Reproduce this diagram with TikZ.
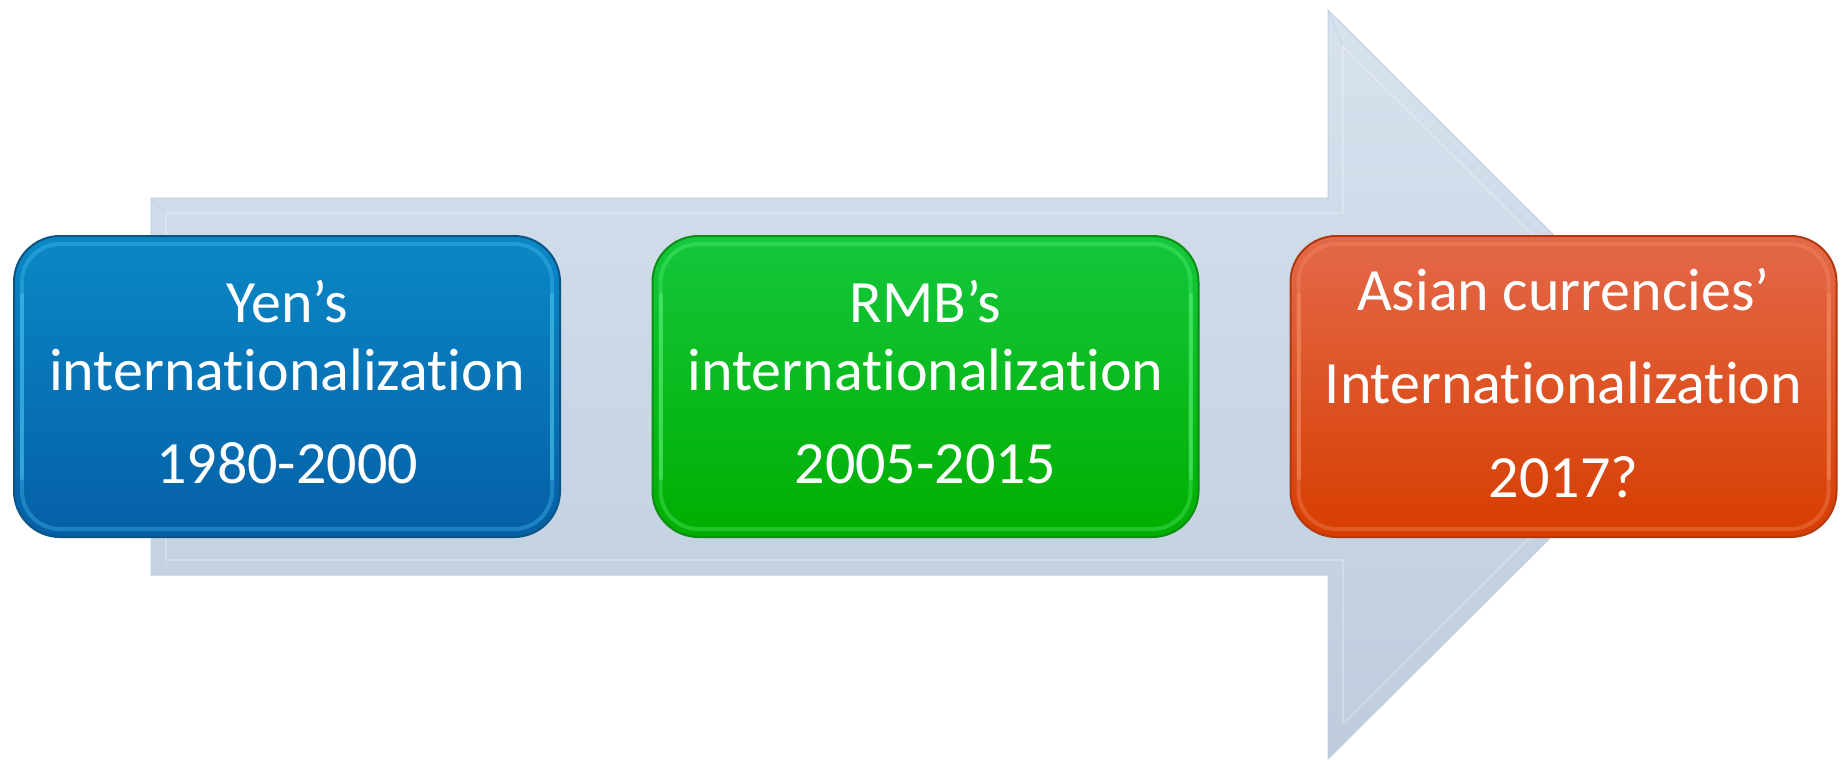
\documentclass[tikz,border=0pt]{standalone}
\usepackage{fontspec}
\setmainfont{Carlito}[Ligatures={NoCommon,NoRequired,NoContextual}]
\usetikzlibrary{calc}

% arrow colours
\definecolor{arrowTop}{HTML}{D7E2EE}
\definecolor{arrowBot}{HTML}{BECCDD}
\definecolor{arrowEdge}{HTML}{C3CFDD}
% box colours
\definecolor{blueTop}{HTML}{0A88C6}
\definecolor{blueBot}{HTML}{055FA6}
\definecolor{blueEdge}{HTML}{0B5586}
\definecolor{blueHi}{HTML}{4CC4F2}
\definecolor{greenTop}{HTML}{14C73C}
\definecolor{greenBot}{HTML}{00AE00}
\definecolor{greenEdge}{HTML}{0B8E12}
\definecolor{greenHi}{HTML}{5EF27A}
\definecolor{orangeTop}{HTML}{E3694A}
\definecolor{orangeBot}{HTML}{D73D00}
\definecolor{orangeEdge}{HTML}{B2380F}
\definecolor{orangeHi}{HTML}{F59066}

\tikzset{
  tbox/.style={rounded corners=46pt, minimum width=546pt, minimum height=301pt,
    inner sep=0pt, line width=2pt},
  bevel/.style={rounded corners=38pt, line width=4pt, opacity=0.35},
  sidehi/.style={line width=4pt, opacity=0.45, line cap=round},
  lbl/.style={anchor=base, inner sep=0pt, text=white,
    font=\fontsize{60}{72}\selectfont},
}

\begin{document}
\begin{tikzpicture}[x=1pt,y=-1pt]
  \useasboundingbox (0,0) rectangle (1847,760);
  \fill[white] (0,0) rectangle (1847,760);

  % the big timeline arrow
  \shade[top color=arrowTop, bottom color=arrowBot, draw=arrowEdge, line width=1pt]
    (151,198) -- (1328,198) -- (1328,10) -- (1704,385) -- (1328,759)
    -- (1328,575) -- (151,575) -- cycle;
  % soft bevel just inside the arrow outline
  \draw[white, opacity=0.25, line width=2pt, line join=miter]
    (166,213) -- (1343,213) -- (1343,46) -- (1683,385) -- (1343,724)
    -- (1343,560) -- (166,560) -- cycle;
  \draw[arrowBot, opacity=0.5, line width=1pt]
    (151,198) -- (166,213) (1328,10) -- (1343,46) (1704,385) -- (1683,385)
    (1328,759) -- (1343,724) (151,575) -- (166,560);

  % three stage boxes
  \node[tbox, top color=blueTop, bottom color=blueBot, draw=blueEdge]
    (yen) at (287,386.5) {};
  \node[tbox, top color=greenTop, bottom color=greenBot, draw=greenEdge]
    (rmb) at (925.5,386.5) {};
  \node[tbox, top color=orangeTop, bottom color=orangeBot, draw=orangeEdge]
    (asia) at (1563.5,386.5) {};

  % inner highlights, brighter along the sides
  \foreach \b/\c in {yen/blueHi, rmb/greenHi, asia/orangeHi}{
    \draw[bevel, \c] ($(\b.south west)+(9,-9)$) rectangle ($(\b.north east)+(-9,9)$);
    \draw[sidehi, \c] ($(\b.south west)+(9,-60)$) -- ($(\b.north west)+(9,60)$);
    \draw[sidehi, \c] ($(\b.south east)+(-9,-60)$) -- ($(\b.north east)+(-9,60)$);
  }

  % labels
  \node[lbl] (yen1) at ($(yen.center)+(0,-64.5)$) {Yen’s};
  \node[lbl] (yen2) at ($(yen.center)+(0,3.5)$) {internationalization};
  \node[lbl] (yen3) at ($(yen.center)+(0,96.5)$) {1980-2000};

  \node[lbl] (rmb1) at ($(rmb.center)+(0,-64.5)$) {RMB’s};
  \node[lbl] (rmb2) at ($(rmb.center)+(0,3.5)$) {internationalization};
  \node[lbl] (rmb3) at ($(rmb.center)+(0,96.5)$) {2005-2015};

  \node[lbl] (asia1) at ($(asia.center)+(0,-76.5)$) {Asian currencies’};
  \node[lbl] (asia2) at ($(asia.center)+(0,16.5)$) {Internationalization};
  \node[lbl] (asia3) at ($(asia.center)+(0,110.5)$) {2017?};
\end{tikzpicture}
\end{document}
